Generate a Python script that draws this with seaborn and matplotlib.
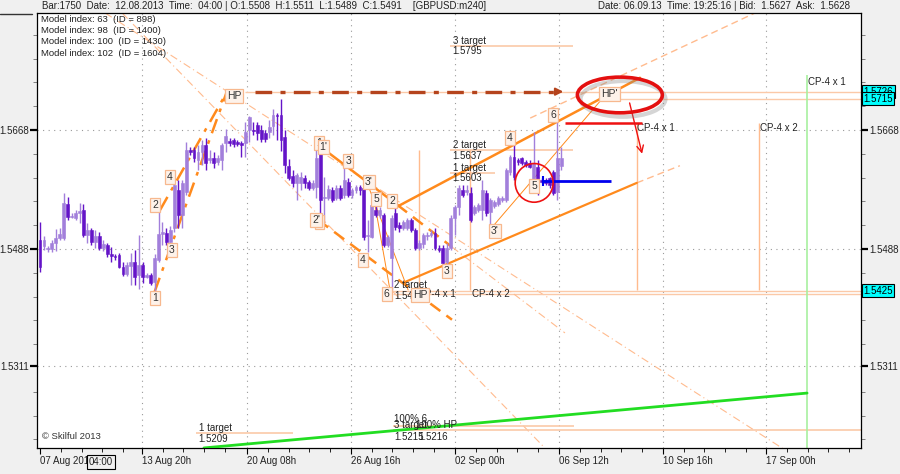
import numpy as np
import pandas as pd
import matplotlib
matplotlib.use("Agg")
import matplotlib.pyplot as plt
import matplotlib.transforms as mtransforms
from matplotlib.patches import Ellipse, Arc
import seaborn as sns

# ---------------- data ----------------
opens = [1.5502, 1.5493, 1.5488, 1.5488, 1.5497, 1.5505, 1.5505, 1.5556, 1.5537, 1.5535,
         1.5542, 1.5547, 1.5509, 1.5517, 1.5499, 1.5508, 1.5490, 1.5494, 1.5480, 1.5477,
         1.5479, 1.5461, 1.5450, 1.5462, 1.5468, 1.5449, 1.5464, 1.5446, 1.5449, 1.5438,
         1.5471, 1.5511, 1.5512, 1.5499, 1.5520, 1.5577, 1.5539, 1.5574, 1.5638, 1.5638,
         1.5623, 1.5635, 1.5645, 1.5623, 1.5626, 1.5620, 1.5623, 1.5648, 1.5651, 1.5653,
         1.5650, 1.5648, 1.5648, 1.5668, 1.5668, 1.5676, 1.5668, 1.5663, 1.5665, 1.5674,
         1.5691, 1.5691, 1.5657, 1.5614, 1.5598, 1.5588, 1.5588, 1.5595, 1.5589, 1.5580,
         1.5582, 1.5635, 1.5565, 1.5565, 1.5577, 1.5565, 1.5580, 1.5570, 1.5589, 1.5570,
         1.5577, 1.5582, 1.5580, 1.5508, 1.5506, 1.5547, 1.5539, 1.5539, 1.5494, 1.5474,
         1.5542, 1.5524, 1.5520, 1.5520, 1.5532, 1.5517, 1.5490, 1.5496, 1.5508, 1.5509,
         1.5512, 1.5490, 1.5490, 1.5468, 1.5490, 1.5535, 1.5552, 1.5577, 1.5574, 1.5573,
         1.5542, 1.5547, 1.5547, 1.5573, 1.5544, 1.5553, 1.5556, 1.5562, 1.5562, 1.5604,
         1.5627, 1.5623, 1.5626, 1.5620, 1.5618, 1.5592, 1.5612, 1.5592, 1.5592, 1.5595,
         1.5604, 1.5574, 1.5614]
closes = [1.5461, 1.5502, 1.5490, 1.5497, 1.5505, 1.5511, 1.5558, 1.5536, 1.5538, 1.5542,
          1.5545, 1.5509, 1.5517, 1.5499, 1.5508, 1.5490, 1.5496, 1.5480, 1.5477, 1.5476,
          1.5461, 1.5450, 1.5464, 1.5468, 1.5446, 1.5464, 1.5446, 1.5449, 1.5437, 1.5474,
          1.5511, 1.5514, 1.5499, 1.5517, 1.5585, 1.5539, 1.5588, 1.5638, 1.5635, 1.5626,
          1.5635, 1.5645, 1.5618, 1.5626, 1.5618, 1.5626, 1.5645, 1.5659, 1.5648, 1.5647,
          1.5647, 1.5645, 1.5665, 1.5688, 1.5666, 1.5663, 1.5654, 1.5654, 1.5673, 1.5691,
          1.5689, 1.5653, 1.5615, 1.5595, 1.5588, 1.5600, 1.5597, 1.5588, 1.5580, 1.5588,
          1.5626, 1.5562, 1.5567, 1.5579, 1.5562, 1.5580, 1.5565, 1.5592, 1.5570, 1.5577,
          1.5582, 1.5577, 1.5506, 1.5509, 1.5555, 1.5539, 1.5547, 1.5494, 1.5506, 1.5535,
          1.5521, 1.5520, 1.5529, 1.5532, 1.5517, 1.5490, 1.5497, 1.5509, 1.5509, 1.5512,
          1.5490, 1.5486, 1.5467, 1.5490, 1.5535, 1.5552, 1.5580, 1.5570, 1.5577, 1.5532,
          1.5552, 1.5555, 1.5577, 1.5542, 1.5562, 1.5559, 1.5565, 1.5565, 1.5607, 1.5627,
          1.5597, 1.5620, 1.5618, 1.5615, 1.5612, 1.5618, 1.5577, 1.5589, 1.5588, 1.5585,
          1.5573, 1.5626, 1.5626]
highs = [1.5529, 1.5508, 1.5493, 1.5502, 1.5518, 1.5520, 1.5573, 1.5567, 1.5542, 1.5547,
         1.5558, 1.5556, 1.5527, 1.5520, 1.5517, 1.5514, 1.5502, 1.5497, 1.5491, 1.5480,
         1.5482, 1.5468, 1.5468, 1.5482, 1.5486, 1.5509, 1.5468, 1.5452, 1.5452, 1.5480,
         1.5545, 1.5529, 1.5520, 1.5523, 1.5592, 1.5592, 1.5592, 1.5650, 1.5642, 1.5642,
         1.5645, 1.5653, 1.5656, 1.5638, 1.5635, 1.5630, 1.5648, 1.5670, 1.5656, 1.5656,
         1.5653, 1.5651, 1.5680, 1.5689, 1.5680, 1.5680, 1.5676, 1.5668, 1.5683, 1.5700,
         1.5694, 1.5715, 1.5668, 1.5624, 1.5607, 1.5603, 1.5604, 1.5600, 1.5592, 1.5592,
         1.5638, 1.5642, 1.5597, 1.5585, 1.5582, 1.5585, 1.5585, 1.5611, 1.5595, 1.5580,
         1.5585, 1.5585, 1.5585, 1.5532, 1.5562, 1.5555, 1.5552, 1.5542, 1.5509, 1.5539,
         1.5555, 1.5529, 1.5532, 1.5535, 1.5535, 1.5520, 1.5502, 1.5512, 1.5514, 1.5517,
         1.5520, 1.5494, 1.5494, 1.5497, 1.5539, 1.5555, 1.5585, 1.5585, 1.5585, 1.5582,
         1.5555, 1.5558, 1.5592, 1.5577, 1.5565, 1.5562, 1.5568, 1.5568, 1.5611, 1.5630,
         1.5648, 1.5626, 1.5627, 1.5623, 1.5623, 1.5665, 1.5623, 1.5595, 1.5595, 1.5597,
         1.5607, 1.5680, 1.5642]
lows = [1.5453, 1.5486, 1.5483, 1.5483, 1.5485, 1.5502, 1.5502, 1.5532, 1.5535, 1.5532,
        1.5527, 1.5506, 1.5497, 1.5494, 1.5490, 1.5486, 1.5485, 1.5476, 1.5468, 1.5471,
        1.5459, 1.5447, 1.5447, 1.5434, 1.5434, 1.5427, 1.5437, 1.5444, 1.5434, 1.5423,
        1.5468, 1.5494, 1.5494, 1.5486, 1.5514, 1.5520, 1.5520, 1.5570, 1.5630, 1.5620,
        1.5607, 1.5615, 1.5607, 1.5618, 1.5611, 1.5615, 1.5607, 1.5635, 1.5644, 1.5642,
        1.5644, 1.5627, 1.5627, 1.5650, 1.5660, 1.5653, 1.5650, 1.5650, 1.5656, 1.5660,
        1.5653, 1.5636, 1.5603, 1.5592, 1.5582, 1.5562, 1.5577, 1.5580, 1.5577, 1.5577,
        1.5565, 1.5521, 1.5527, 1.5562, 1.5559, 1.5562, 1.5562, 1.5565, 1.5567, 1.5565,
        1.5573, 1.5570, 1.5502, 1.5483, 1.5505, 1.5536, 1.5535, 1.5491, 1.5491, 1.5426,
        1.5517, 1.5514, 1.5517, 1.5517, 1.5514, 1.5486, 1.5486, 1.5490, 1.5502, 1.5506,
        1.5486, 1.5483, 1.5461, 1.5464, 1.5486, 1.5509, 1.5539, 1.5567, 1.5570, 1.5529,
        1.5539, 1.5544, 1.5532, 1.5538, 1.5521, 1.5550, 1.5553, 1.5559, 1.5559, 1.5600,
        1.5592, 1.5615, 1.5615, 1.5612, 1.5611, 1.5588, 1.5570, 1.5588, 1.5585, 1.5580,
        1.5570, 1.5562, 1.5607]

date_labels = ["07 Aug 2013", "13 Aug 20h", "20 Aug 08h", "26 Aug 16h",
               "02 Sep 00h", "06 Sep 12h", "10 Sep 16h", "17 Sep 00h"]
date_tick_bars = [0, 25.8, 52.4, 78.7, 105.1, 131.4, 157.7, 183.8]
price_ticks = [1.5668, 1.5488, 1.5311]
boxed_prices = [1.5726, 1.5715, 1.5425]

model_lines = ["Model index: 63  (ID = 898)", "Model index: 98  (ID = 1400)",
               "Model index: 100  (ID = 1430)", "Model index: 102  (ID = 1604)"]

# wave labels: (text, bar, price)
wave_labels = [("1", 29.1, 1.5414), ("2", 29.1, 1.5555), ("3", 33.4, 1.5486), ("4", 32.9, 1.5597),
               ("HP", 49.1, 1.5719), ("1", 70.6, 1.5648), ("1'", 71.8, 1.5642), ("2", 70.8, 1.5529),
               ("2'", 69.9, 1.5532), ("3", 78.0, 1.5621), ("3'", 83.3, 1.5589), ("5", 85.1, 1.5564),
               ("4", 81.8, 1.5471), ("2", 89.1, 1.5561), ("6", 87.8, 1.5420), ("HP", 96.2, 1.5418),
               ("3", 103.0, 1.5455), ("3'", 115.2, 1.5515), ("4", 119.0, 1.5656), ("5", 125.1, 1.5583),
               ("6", 129.9, 1.5691), ("HP'", 144.2, 1.5723)]

# target annotations: (title, value text, bar, price, line end bar)
targets = [("3 target", "1.5795", 104.3, 1.5795, 134.9),
           ("2 target", "1.5637", 104.3, 1.5637, 134.9),
           ("1 target", "1.5603", 104.3, 1.5603, 115.2),
           ("2 target", "1.5420", 89.4, 1.5425, None),
           ("1 target", "1.5209", 40.0, 1.5209, 64.1)]

# CP vertical lines: (bar, top price, bottom price, label, label bar, label price)
cp_lines = [(151.1, 1.5679, 1.5426, "CP-4 x 1", 151.1, 1.5671),
            (182.0, 1.5679, 1.5426, "CP-4 x 2", 182.4, 1.5671),
            (95.9, 1.5638, 1.5426, "CP-4 x 1", 95.6, 1.5420),
            (108.9, 1.5638, 1.5426, "CP-4 x 2", 109.3, 1.5420)]

# trend lines: (bar0, price0, bar1, price1)
impulse_a = (29.0, 1.5423, 47.3, 1.5726)
impulse_b = (30.4, 1.5547, 46.8, 1.5720)
fan_1 = (20.8, 1.5845, 127.8, 1.5187)
fan_2 = (16.5, 1.5845, 189.9, 1.5179)
down_upper = (71.4, 1.5641, 90.4, 1.5555)
down_upper_ext = (90.4, 1.5555, 104.3, 1.5491)
down_upper_far = (104.3, 1.5491, 132.9, 1.5361)
down_lower = (70.4, 1.5532, 104.3, 1.5381)
up_upper = (90.1, 1.5551, 151.9, 1.5747)
up_upper_dash = (124.1, 1.5686, 181.0, 1.5845)
up_lower = (92.4, 1.5438, 151.1, 1.5588)
up_lower_dash = (151.1, 1.5588, 162.0, 1.5614)
thin_3p_hp = (113.9, 1.5517, 143.0, 1.5720)
thin_a = (82.8, 1.5588, 93.2, 1.5426)
thin_b = (84.8, 1.5555, 88.6, 1.5426)
green_bars = [41.5, 194.2]
green_prices = [1.5187, 1.5270]

hp_level = 1.5726
hp2_level = 1.5715
blue_level = 1.5591
red_level = 1.5679

# ---------------- styling ----------------
sns.set_theme(style="white")
plt.rcParams['font.family'] = ['Liberation Sans', 'DejaVu Sans']

ORANGE = '#ff8a1c'
LIGHT = '#ffbb8e'
PALE = '#fbc9a8'
TXT = '#222222'

fig = plt.figure(figsize=(9, 4.74), dpi=100, facecolor='#f0f0f0')
ax = fig.add_axes([37 / 900, 26 / 474, 824 / 900, 435 / 474])
ax.set_facecolor('white')
XMIN, XMAX = -0.76, 207.85
ax.set_xlim(XMIN, XMAX)
ax.set_ylim(1.51869, 1.58450)

# grid
for xb in date_tick_bars[1:]:
    ax.axvline(xb, color='#9a9a9a', lw=0.8, ls=(0, (1, 4)), zorder=0)
for p in price_ticks:
    ax.axhline(p, color='#9a9a9a', lw=0.8, ls=(0, (1, 4)), zorder=0)

def seg(line, **kw):
    ax.plot([line[0], line[2]], [line[1], line[3]], **kw)

# light fan lines
seg(fan_1, color=LIGHT, lw=0.8, ls=(0, (7, 3, 1, 3)), zorder=1)
seg(fan_2, color=LIGHT, lw=0.8, ls=(0, (7, 3, 1, 3)), zorder=1)

# horizontal levels
ax.hlines(hp_level, 51.9, XMAX, color=PALE, lw=1.0, zorder=1)
ax.hlines(hp2_level, 146.1, XMAX, color=PALE, lw=1.0, zorder=1)
ax.hlines(1.5425, 87.3, XMAX, color=PALE, lw=1.0, zorder=1)
ax.hlines(1.5420, 89.4, XMAX, color=PALE, lw=1.0, zorder=1)
ax.hlines(1.5220, 89.4, 135.2, color=PALE, lw=1.2, zorder=1)
ax.hlines(1.5214, 89.4, XMAX, color=PALE, lw=1.2, zorder=1)

# target lines and text
for title, val, xb, p, xe in targets:
    if xe is not None:
        ax.hlines(p, xb - 0.6, xe, color=PALE, lw=1.2, zorder=1)
    ax.text(xb + 0.2, p + 0.00003, title, fontsize=7, color=TXT, ha='left', va='bottom', zorder=6)
    ax.text(xb + 0.2, p - 0.00003, val, fontsize=7, color=TXT, ha='left', va='top', zorder=6)

# bottom overlapping target texts
ax.text(89.6, 1.5231, "100% 6", fontsize=7, color=TXT, va='center', zorder=6)
ax.text(89.6, 1.5221, "3 target", fontsize=7, color=TXT, va='center', zorder=6)
ax.text(95.2, 1.5222, "100% HP", fontsize=7, color=TXT, va='center', zorder=6)
ax.text(89.6, 1.5204, "1.5215", fontsize=7, color=TXT, va='center', zorder=6)
ax.text(95.7, 1.5204, "1.5216", fontsize=7, color=TXT, va='center', zorder=6)

# CP vertical lines
for xb, top, bot, lbl, lx, ly in cp_lines:
    ax.vlines(xb, bot, top, color=LIGHT, lw=1.0, zorder=1)
    ax.text(lx, ly, lbl, fontsize=7, color=TXT, ha='left', va='center', zorder=6)
ax.vlines(194.2, 1.51869, 1.5751, color='#a8f0a0', lw=1.2, zorder=1)
ax.text(194.5, 1.5741, "CP-4 x 1", fontsize=7, color=TXT, ha='left', va='center', zorder=6)

# green line via seaborn
sns.lineplot(x=green_bars, y=green_prices, ax=ax, color='#22dd22', lw=2, zorder=3)

# orange structure lines
seg(impulse_a, color=ORANGE, lw=1.8, ls=(0, (6, 3, 1.5, 3)), zorder=3)
seg(impulse_b, color=ORANGE, lw=1.8, ls=(0, (6, 3, 1.5, 3)), zorder=3)
seg(down_upper, color=ORANGE, lw=1.8, zorder=3)
seg(down_upper_ext, color=ORANGE, lw=1.8, ls=(0, (5, 3)), zorder=3)
seg(down_upper_far, color=LIGHT, lw=0.8, ls=(0, (7, 3, 1, 3)), zorder=2)
seg(down_lower, color=ORANGE, lw=1.8, ls=(0, (5, 3)), zorder=3)
seg(up_upper, color=ORANGE, lw=1.8, zorder=3)
seg(up_upper_dash, color=LIGHT, lw=1.0, ls=(0, (5, 3)), zorder=2)
seg(up_lower, color=ORANGE, lw=1.6, zorder=3)
seg(up_lower_dash, color=LIGHT, lw=1.0, ls=(0, (5, 3)), zorder=2)
seg(thin_3p_hp, color=ORANGE, lw=0.7, zorder=3)
seg(thin_a, color=ORANGE, lw=0.7, zorder=3)
seg(thin_b, color=ORANGE, lw=0.7, zorder=3)

# candles
df = pd.DataFrame({'o': opens, 'h': highs, 'l': lows, 'c': closes})
df['bar'] = np.arange(len(df))
df['bull'] = df['c'] >= df['o']
BULL, BEAR = '#a27fdb', '#6414c8'
cols = np.where(df['bull'], BULL, BEAR)
ax.vlines(df['bar'], df['l'], df['h'], colors=cols, lw=1.0, zorder=4)
body_lo = np.minimum(df['o'], df['c'])
body_h = np.maximum(np.abs(df['c'] - df['o']), 0.00012)
ax.bar(df['bar'], body_h, bottom=body_lo, width=0.72, color=cols, edgecolor=cols, lw=0.4, zorder=5)

# brown dash-dot arrow at HP level
ax.plot([54.4, 130.8], [hp_level, hp_level], color='#b5441d', lw=2.4,
        ls=(0, (5, 2.5, 1.5, 2.5)), zorder=3)
ax.annotate('', xy=(133.2, hp_level), xytext=(130.4, hp_level),
            arrowprops=dict(arrowstyle='-|>', color='#b5441d', lw=1.5, mutation_scale=11), zorder=3)

# blue line
ax.hlines(blue_level, 127.3, 144.6, color='#0000ee', lw=2.0, zorder=6)
ax.vlines(127.3, blue_level - 0.0007, blue_level + 0.0007, color='#0000ee', lw=1.5, zorder=6)

# red items
ax.hlines(red_level, 132.9, 152.4, color='#ee1111', lw=1.8, zorder=6)
ax.annotate('', xy=(152.6, 1.5628), xytext=(149.1, 1.5713),
            arrowprops=dict(arrowstyle='->', color='#ee1111', lw=1.0), zorder=6)
ax.add_patch(Ellipse((125.1, 1.5588), 9.6, 0.00585, fill=False, ec='#ee1111', lw=1.2, zorder=6))
ax.add_patch(Ellipse((147.6, 1.5715), 21.5, 0.0054, fill=False, ec='#888888', lw=3.0, alpha=0.35, zorder=6))
ax.add_patch(Arc((146.8, 1.5721), 21.5, 0.0054, theta1=108, theta2=450, ec='#e41010', lw=2.6, zorder=7))

# wave label boxes
for s, xb, p in wave_labels:
    ax.text(xb, p, s, fontsize=7.5, color='#333333', ha='center', va='center', zorder=8,
            bbox=dict(boxstyle='square,pad=0.18', fc='#fdf2ea', ec='#f7b88e', lw=0.9))

# copyright & model text
ax.text(0.5, 1.5204, "\u00a9 Skilful 2013", fontsize=6.8, color='#333333', va='center', zorder=6)
for i, s in enumerate(model_lines):
    ax.text(0.005, 0.986 - i * 0.026, s, transform=ax.transAxes, fontsize=6.8,
            color='#222222', va='center', zorder=6)

# axes ticks
ax.set_xticks(date_tick_bars)
ax.set_xticklabels(date_labels, fontsize=7, color='#222222')
for lbl in ax.get_xticklabels():
    lbl.set_horizontalalignment('left')
minor_x = []
for a in date_tick_bars:
    for k in range(1, 5):
        minor_x.append(a + k * 26.3 / 5)
ax.set_xticks([m for m in minor_x if XMIN < m < XMAX], minor=True)
ax.set_yticks(price_ticks)
ax.set_yticklabels([f"{p:.4f}" for p in price_ticks], fontsize=7, color='#222222')
minor_y = [1.5668 + k * 0.0036 for k in range(-15, 6)]
ax.set_yticks([m for m in minor_y if 1.5187 < m < 1.5845 and round(m, 4) not in (1.5668, 1.5488, 1.5308)], minor=True)
ax.tick_params(axis='y', which='major', left=True, right=True, labelleft=True, labelright=True,
               direction='out', length=5, width=1.6, color='black', pad=1)
ax.tick_params(axis='y', which='minor', left=True, right=True, direction='out', length=3,
               width=0.7, color='#808080')
ax.tick_params(axis='x', which='major', bottom=True, direction='out', length=4, width=0.8,
               color='black', pad=2)
ax.tick_params(axis='x', which='minor', bottom=True, direction='out', length=3, width=0.6, color='black')
for sp in ax.spines.values():
    sp.set_color('black')
    sp.set_linewidth(0.9)
    sp.set_visible(True)

# boxed price labels on right axis
trans = mtransforms.blended_transform_factory(ax.transAxes, ax.transData)
for p in boxed_prices:
    ax.text(1.003, p, f"{p:.4f}", transform=trans, fontsize=7, color='black', ha='left', va='center',
            zorder=9, clip_on=False,
            bbox=dict(boxstyle='square,pad=0.15', fc='#00ffff', ec='black', lw=0.8))

# header
fig.text(42 / 900, 1 - 6 / 474,
         "Bar:1750  Date:  12.08.2013  Time:  04:00 | O:1.5508  H:1.5511  L:1.5489  C:1.5491    [GBPUSD:m240]",
         fontsize=7, color='#222222', va='center', ha='left')
fig.text(850 / 900, 1 - 6 / 474,
         "Date: 06.09.13  Time: 19:25:16 | Bid:  1.5627  Ask:  1.5628",
         fontsize=7, color='#222222', va='center', ha='right')
fig.add_artist(plt.Line2D([0, 32 / 900], [1 - 14 / 474, 1 - 14 / 474], color='#333333', lw=1))

# crosshair time box
fig.text(101 / 900, 1 - 462 / 474, "04:00", fontsize=7, color='#222222', ha='center', va='center',
         bbox=dict(boxstyle='square,pad=0.2', fc='#f0f0f0', ec='black', lw=0.8))

fig.savefig("out.png", dpi=100, facecolor=fig.get_facecolor())
